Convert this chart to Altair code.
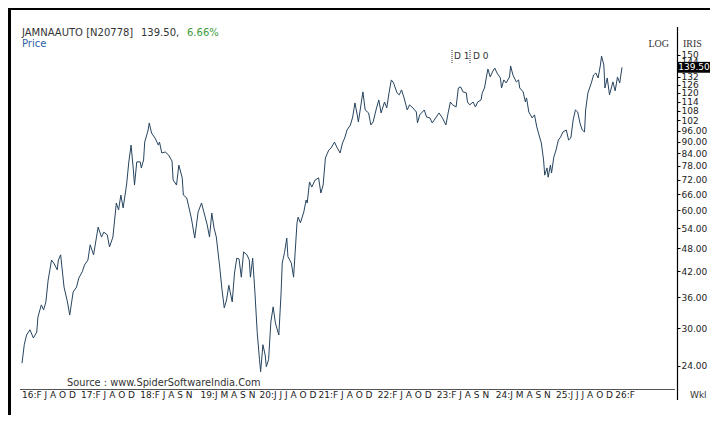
import altair as alt
import pandas as pd

# ---- data (weekly index from Feb-2016, closing price) ----
weeks = [0, 2, 4, 7, 10, 13, 14, 17, 19, 21,
         23, 26, 28, 31, 32, 34, 37, 40, 42, 45,
         48, 50, 53, 55, 58, 60, 63, 67, 70, 72,
         75, 77, 80, 83, 85, 87, 89, 92, 94, 96,
         98, 99, 101, 104, 105, 107, 108, 111, 112, 114,
         117, 120, 121, 123, 126, 129, 132, 133, 136, 138,
         141, 142, 145, 146, 149, 152, 155, 158, 160, 163,
         165, 167, 169, 171, 174, 176, 178, 180, 182, 185,
         187, 189, 191, 193, 195, 198, 200, 201, 203, 205,
         207, 209, 210, 212, 214, 215, 217, 219, 221, 223,
         226, 228, 229, 231, 233, 234, 237, 239, 242, 243,
         245, 248, 250, 251, 253, 255, 258, 261, 263, 265,
         267, 270, 272, 275, 277, 280, 282, 284, 286, 289,
         291, 293, 295, 296, 298, 300, 302, 305, 307, 309,
         312, 314, 316, 319, 321, 323, 325, 327, 330, 332,
         334, 336, 339, 341, 344, 347, 348, 350, 354, 356,
         359, 361, 364, 367, 370, 373, 375, 377, 379, 382,
         384, 386, 388, 391, 392, 394, 397, 399, 401, 404,
         405, 407, 409, 410, 412, 414, 416, 418, 421, 422,
         424, 426, 429, 430, 432, 435, 437, 438, 441, 443,
         444, 446, 449, 451, 453, 455, 457, 459, 460, 462,
         463, 465, 466, 468, 470, 472, 474, 476, 479, 481,
         483, 485, 487, 489, 491, 493, 495, 496, 498, 501,
         503, 505, 507, 509, 510, 512, 513, 515, 517, 520,
         522, 524, 526, 528]

prices = [24.4, 27.2, 28.8, 29.7, 28.3, 29.3, 32.0, 34.4, 33.4, 35.0,
          39.8, 44.8, 44.0, 42.3, 44.8, 46.2, 38.2, 35.0, 32.4, 37.1,
          38.2, 40.3, 41.8, 43.5, 44.8, 49.0, 46.2, 54.4, 51.3, 52.8,
          52.0, 48.4, 51.3, 62.7, 60.2, 65.7, 60.9, 69.7, 79.9, 88.2,
          76.2, 69.7, 79.9, 79.9, 77.1, 80.8, 89.8, 96.4, 100.5, 94.7,
          92.0, 88.2, 89.8, 84.2, 84.7, 83.2, 80.3, 71.8, 69.7, 78.4,
          72.7, 65.7, 64.6, 62.7, 57.4, 51.0, 59.5, 62.7, 59.5, 55.1,
          51.3, 59.1, 54.1, 51.3, 43.0, 37.6, 33.8, 35.4, 38.6, 35.0,
          41.5, 45.3, 45.1, 40.5, 47.0, 46.2, 44.8, 40.5, 45.3, 36.9,
          29.2, 24.9, 23.2, 27.2, 25.6, 23.9, 24.9, 31.1, 34.0, 30.9,
          28.8, 36.9, 44.0, 46.8, 51.0, 45.7, 44.0, 40.5, 55.8, 57.7,
          55.8, 59.5, 63.8, 62.7, 71.0, 68.9, 71.8, 72.7, 66.5, 69.7,
          81.8, 85.7, 86.7, 89.8, 87.2, 84.2, 89.3, 92.0, 96.4, 99.3,
          104.1, 113.1, 105.4, 101.1, 110.4, 120.7, 108.5, 106.6, 99.3, 101.1,
          109.8, 115.1, 106.6, 113.7, 109.8, 120.0, 129.5, 127.2, 120.0, 118.6,
          122.1, 117.1, 108.5, 111.8, 109.8, 107.2, 100.5, 105.4, 108.5, 104.1,
          103.5, 100.5, 103.5, 106.6, 103.5, 99.3, 106.6, 113.7, 111.8, 110.4,
          123.5, 124.3, 120.7, 120.0, 113.7, 111.8, 113.7, 110.4, 113.7, 115.1,
          120.0, 123.5, 133.3, 138.1, 131.8, 135.7, 138.9, 134.9, 131.0, 123.5,
          129.5, 127.2, 131.8, 140.6, 133.3, 128.0, 129.5, 123.5, 120.7, 113.7,
          116.5, 107.2, 103.5, 105.4, 98.2, 93.6, 89.3, 80.8, 73.9, 77.1,
          73.0, 78.4, 74.8, 82.2, 85.7, 90.9, 92.5, 95.3, 96.4, 90.9,
          92.0, 102.3, 108.5, 107.2, 100.5, 96.4, 95.3, 108.5, 120.0, 127.2,
          133.3, 134.9, 131.0, 141.4, 149.1, 141.4, 123.5, 131.0, 118.6, 128.0,
          121.4, 131.8, 127.2, 139.5]

x_labels = ["16:F J A O D", "17:F J A O D", "18:F J A S N", "19:J M A S N",
            "20:J J J A O D", "21:F J A O D", "22:F J A O D", "23:F J A S N",
            "24:J M A S N", "25:J J J A O D", "26:F"]
x_label_weeks = [0, 52, 104, 157, 209, 261, 313, 365, 417, 470, 522]

y_ticks = [24, 30, 36, 42, 48, 54, 60, 66, 72, 78, 84, 90, 96,
           102, 108, 114, 120, 126, 132, 144, 150]

last_price = 139.50
last_label = "139.50"

df = pd.DataFrame({"week": weeks, "price": prices})
df_x = pd.DataFrame({"week": x_label_weeks, "label": x_labels})
df_last = pd.DataFrame({"week": [weeks[-1]], "price": [last_price], "label": [last_label]})

FONT = "DejaVu Sans"
W, H = 657, 360

xscale = alt.Scale(domain=[-1.76, 576.4], nice=False, zero=False)
yscale = alt.Scale(type="log", domain=[20.83, 173.8], nice=False, zero=False)

line = alt.Chart(df).mark_line(color="#27445f", strokeWidth=1).encode(
    x=alt.X("week:Q", scale=xscale, axis=None),
    y=alt.Y("price:Q", scale=yscale,
            axis=alt.Axis(orient="right", values=y_ticks, domain=False,
                          ticks=True, tickSize=3, tickColor="#000",
                          labelFont=FONT, labelFontSize=9, labelColor="#222",
                          labelPadding=1, grid=False, title=None,
                          labelOverlap=False,
                          labelExpr="datum.value < 100 ? format(datum.value, '.2f') : format(datum.value, 'd')")),
)

xlab = alt.Chart(df_x).mark_text(align="left", baseline="middle", font=FONT,
                                 fontSize=9, color="#222").encode(
    x=alt.X("week:Q", scale=xscale, axis=None),
    y=alt.value(364.5),
    text="label:N",
)

box = alt.Chart(df_last).mark_point(
    shape="M-1,-0.34L1,-0.34L1,0.34L-1,0.34Z", filled=True, color="#000",
    opacity=1, size=1024).encode(
    x=alt.value(674),
    y=alt.Y("price:Q", scale=yscale),
)
box_text = alt.Chart(df_last).mark_text(font=FONT, fontSize=9, color="#fff",
                                        align="center", baseline="middle").encode(
    x=alt.value(674),
    y=alt.Y("price:Q", scale=yscale),
    text="label:N",
)


def note(text, px, py, color="#333", size=10, align="left", font=FONT):
    return alt.Chart(alt.Data(values=[{}])).mark_text(
        text=text, align=align, baseline="middle", fontSize=size,
        font=font, color=color).encode(x=alt.value(px), y=alt.value(py))


def rule(x1, y1, x2, y2, color="#000", width=1.0, dash=None):
    kw = dict(color=color, strokeWidth=width)
    if dash:
        kw["strokeDash"] = dash
    return alt.Chart(alt.Data(values=[{}])).mark_rule(**kw).encode(
        x=alt.value(x1), x2=alt.value(x2), y=alt.value(y1), y2=alt.value(y2))


layers = [
    rule(-10.5, -22, -10.5, 385, "#000", 3),        # left frame
    rule(-12, -21, 690, -21, "#000", 2),            # top frame
    rule(657.5, -3, 657.5, 370, "#000", 1.2),       # price axis line
    rule(0, 359.5, 655, 359.5, "#555", 1),          # time axis line
    line,
    xlab,
    note("JAMNAAUTO [N20778]", 2, 3, "#333", 10),
    note("139.50,", 121, 3, "#333", 10),
    note("6.66%", 167, 3, "#3c9c3c", 10),
    note("Price", 2, 14, "#2f5fa8", 10),
    note("D 1", 434, 26, "#333", 9),
    note("D 0", 453, 26, "#333", 9),
    rule(432, 20, 432, 33, "#333", 1, [1, 1]),
    rule(450, 20, 450, 33, "#333", 1, [1, 1]),
    note("LOG", 649, 14, "#333", 10, "right", "Liberation Serif"),
    note("IRIS", 663, 14, "#333", 10, "left", "Liberation Serif"),
    note("Source : www.SpiderSoftwareIndia.Com", 47, 353, "#333", 9.8),
    note("Wkl", 670, 365, "#333", 9),
    box,
    box_text,
]

chart = alt.layer(*layers).properties(
    width=W, height=H,
    autosize=alt.AutoSizeParams(type="none"),
    padding={"left": 12, "top": 22, "right": 33, "bottom": 25},
    background="#ffffff",
).configure_view(stroke=None)

chart.save("out.html", embed_options={"renderer": "svg", "actions": False})
